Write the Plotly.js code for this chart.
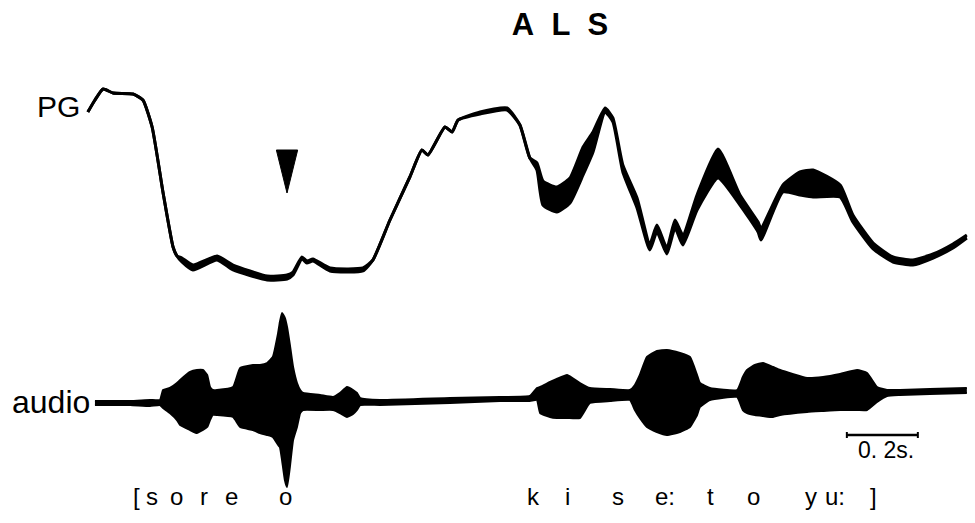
<!DOCTYPE html>
<html>
<head>
<meta charset="utf-8">
<script src="https://cdn.plot.ly/plotly-3.0.1.min.js"></script>
<style>html,body{margin:0;padding:0;background:#fff;}#chart{width:975px;height:523px;}</style>
</head>
<body>
<div id="chart"></div>
<script>
// Photoglottograph (PG) trace: time (s), upper and lower edge of the trace (a.u.)
const pgTime  = [-0.006,0.014,0.037,0.065,0.121,0.149,0.175,0.206,0.234,0.245,0.259,0.290,0.358,0.403,0.499,0.555,0.572,0.597,0.611,0.628,0.676,0.769,0.797,0.845,0.901,0.935,0.952,1.000,1.020,1.037,1.099,1.175,1.211,1.239,1.259,1.276,1.315,1.352,1.389,1.417,1.451,1.473,1.501,1.541,1.577,1.597,1.625,1.648,1.670,1.710,1.769,1.831,1.882,1.890,1.952,2.000,2.037,2.113,2.149,2.206,2.262,2.318,2.375,2.431,2.470];
const pgUpper = [168,180,191,187,186,180,153,87,33,24,22,15,24,15,4,5,8,23,19,21,12,12,20,60,103,130,125,153,148,160,168,172,155,122,117,99,93,102,133,148,172,162,115,82,36,55,32,60,45,85,131,85,58,52,95,108,110,95,65,37,23,20,26,36,45];
const pgLower = [168,180,191,187,186,180,153,87,33,24,18,10,20,10,0,1,5,21,17,19,9,9,20,60,103,130,125,153,148,160,166,170,155,122,110,75,68,77,105,128,168,158,108,72,30,48,26,52,35,70,102,75,48,40,88,85,83,83,58,31,18,15,22,32,42];

// Audio waveform envelope: time (s), positive and negative peak (a.u.)
const audioTime  = [0.014,0.113,0.169,0.197,0.206,0.225,0.245,0.254,0.282,0.301,0.318,0.330,0.338,0.346,0.358,0.403,0.423,0.459,0.479,0.499,0.515,0.530,0.535,0.541,0.549,0.555,0.563,0.572,0.583,0.592,0.600,0.648,0.685,0.704,0.724,0.741,0.752,0.761,0.817,1.014,1.155,1.239,1.259,1.268,1.296,1.315,1.344,1.380,1.408,1.465,1.521,1.535,1.549,1.569,1.597,1.625,1.662,1.690,1.710,1.718,1.746,1.823,1.839,1.851,1.873,1.896,1.924,1.944,2.020,2.065,2.113,2.161,2.189,2.217,2.245,2.282,2.366,2.470];
const audioUpper = [2,2,3,3,13,15,20,23,31,33,33,28,16,13,13,16,35,38,38,40,46,70,81,90,85,76,58,36,20,13,10,8,6,10,16,13,10,5,3,5,6,7,15,16,21,24,28,20,15,14,13,18,28,46,52,53,50,46,28,20,15,13,26,33,38,40,36,33,25,26,29,33,30,16,13,13,14,15];
const audioLower = [-2,-2,-3,-2,-5,-10,-17,-22,-27,-30,-27,-24,-17,-12,-12,-14,-24,-27,-30,-32,-34,-42,-44,-57,-77,-84,-64,-37,-24,-10,-7,-7,-7,-10,-14,-11,-7,-2,-2,0,2,2,3,-10,-14,-15,-15,-15,0,2,3,-7,-15,-24,-29,-32,-29,-24,-12,-4,3,6,-7,-10,-12,-13,-14,-12,-9,-8,-7,-7,-7,1,7,8,9,10];

// Phonetic transcription and its time alignment (s)
const phones     = ['[','s','o','r','e','o','k','i','s','e:','t','o','y','u:',']'];
const phoneTimes = [0.130,0.175,0.245,0.321,0.400,0.552,1.248,1.346,1.487,1.620,1.749,1.868,2.031,2.099,2.206];

const markerTime = 0.555;   // arrowhead event
const scaleStart = 2.132;   // scale bar start (s)
const scaleLen   = 0.2;     // scale bar length (s)

const black = '#000';
const traces = [
  {x: pgTime, y: pgLower, type:'scatter', mode:'lines', line:{color:black, width:3, shape:'spline', smoothing:0.5}, hoverinfo:'skip', showlegend:false},
  {x: pgTime, y: pgUpper, type:'scatter', mode:'lines', fill:'tonexty', fillcolor:black, line:{color:black, width:3, shape:'spline', smoothing:0.5}, hoverinfo:'skip', showlegend:false},
  {x: audioTime, y: audioLower, yaxis:'y2', type:'scatter', mode:'lines', line:{color:black, width:2, shape:'spline', smoothing:0.4}, hoverinfo:'skip', showlegend:false},
  {x: audioTime, y: audioUpper, yaxis:'y2', type:'scatter', mode:'lines', fill:'tonexty', fillcolor:black, line:{color:black, width:2, shape:'spline', smoothing:0.4}, hoverinfo:'skip', showlegend:false}
];

const font = 'Liberation Sans, Arial, sans-serif';
const annotations = phones.map((p, i) => ({
  x: phoneTimes[i], xref:'x', y: 1-496/523, yref:'paper', text: p, showarrow:false,
  xanchor:'center', yanchor:'middle', font:{family:font, size:24, color:black}
}));
annotations.push(
  {x: 82/975, xref:'paper', y: 1-107/523, yref:'paper', text:'PG', showarrow:false, xanchor:'right', yanchor:'middle', font:{family:font, size:30, color:black}},
  {x: 92/975, xref:'paper', y: 1-402/523, yref:'paper', text:'audio', showarrow:false, xanchor:'right', yanchor:'middle', font:{family:font, size:32, color:black}},
  {x: scaleStart + scaleLen/2 + 0.01, xref:'x', y: 1-450/523, yref:'paper', text:'0.\u00a02s.', showarrow:false, xanchor:'center', yanchor:'middle', font:{family:font, size:23, color:black}}
);

const hw = 0.03; // half-width of arrowhead in seconds
const shapes = [
  {type:'path', xref:'x', yref:'y', path:`M${markerTime-hw},130 L${markerTime+hw},130 L${markerTime},87 Z`, fillcolor:black, line:{color:black, width:1}},
  {type:'line', xref:'x', yref:'paper', x0:scaleStart, x1:scaleStart+scaleLen, y0:1-435/523, y1:1-435/523, line:{color:black, width:2.5}},
  {type:'line', xref:'x', yref:'paper', x0:scaleStart, x1:scaleStart, y0:1-432/523, y1:1-438/523, line:{color:black, width:2}},
  {type:'line', xref:'x', yref:'paper', x0:scaleStart+scaleLen, x1:scaleStart+scaleLen, y0:1-432/523, y1:1-438/523, line:{color:black, width:2}}
];

const layout = {
  width:975, height:523,
  margin:{l:0, r:0, t:0, b:0, pad:0},
  paper_bgcolor:'#fff', plot_bgcolor:'#fff',
  title:{text:'<b>A\u00a0\u00a0L\u00a0\u00a0S</b>', x:560/975, xanchor:'center', y:1-24/523, yanchor:'middle', font:{family:font, size:31, color:black}},
  xaxis:{range:[-0.2535, 2.493], visible:false, fixedrange:true},
  yaxis:{range:[-243, 280], visible:false, fixedrange:true},
  yaxis2:{range:[-120, 403], overlaying:'y', visible:false, fixedrange:true},
  annotations: annotations,
  shapes: shapes,
  showlegend:false
};

Plotly.newPlot('chart', traces, layout, {staticPlot:true, displayModeBar:false});
</script>
</body>
</html>
